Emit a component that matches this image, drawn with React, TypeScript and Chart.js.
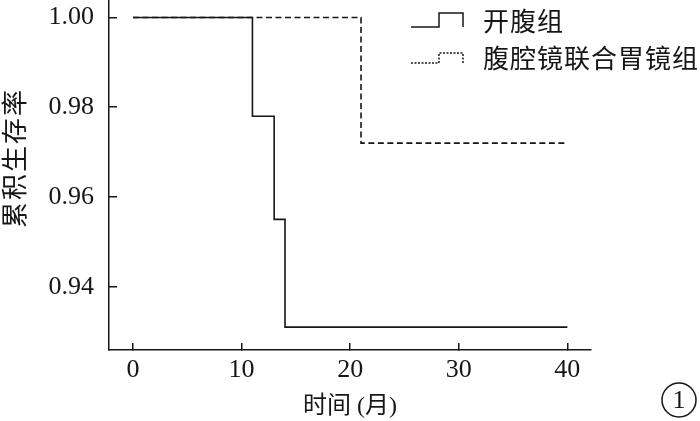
import React, { useEffect, useRef } from 'react';
import { Chart, registerables } from 'chart.js';

Chart.register(...registerables);

// ---- data ----
const seriesNames = ['开腹组', '腹腔镜联合胃镜组'];
const openTimes = [0, 11, 13, 14, 40];
const openSurvival = [1.0, 0.978, 0.955, 0.931, 0.931];
const lapTimes = [0, 21, 40];
const lapSurvival = [1.0, 0.972, 0.972];
const xTicks = [0, 10, 20, 30, 40];
const yTicks = [0.94, 0.96, 0.98, 1.0];
const xTitle = '时间 (月)';
const yTitle = '累积生存率';
const panelLabel = '1';

const INK = '#161616';
const SERIF = '"Liberation Serif", "Times New Roman", serif';
const CJK = '"Noto Sans CJK SC", "Noto Sans CJK JP", sans-serif';
const MIXED = '"Liberation Serif", "Noto Sans CJK SC", serif';

const overlayPlugin = {
  id: 'overlay',
  afterDraw(chart: any) {
    const ctx: CanvasRenderingContext2D = chart.ctx;
    // y-axis title
    ctx.save();
    ctx.translate(14, 158);
    ctx.rotate(-Math.PI / 2);
    ctx.font = `26px ${CJK}`;
    (ctx as any).letterSpacing = '2px';
    ctx.textAlign = 'center';
    ctx.textBaseline = 'middle';
    ctx.fillStyle = INK;
    ctx.fillText(yTitle, 0, 0);
    ctx.restore();

    // legend
    const entries = [
      { name: seriesNames[0], base: 27, top: 13, dash: [] as number[], textY: 21 },
      { name: seriesNames[1], base: 63, top: 53, dash: [2, 1.5], textY: 58 },
    ];
    entries.forEach((e) => {
      ctx.save();
      ctx.strokeStyle = INK;
      ctx.lineWidth = 1.5;
      ctx.setLineDash(e.dash);
      ctx.beginPath();
      ctx.moveTo(411, e.base);
      ctx.lineTo(439, e.base);
      ctx.lineTo(439, e.top);
      ctx.lineTo(463, e.top);
      ctx.lineTo(463, e.base);
      ctx.stroke();
      ctx.restore();
      ctx.save();
      ctx.font = `26px ${CJK}`;
      (ctx as any).letterSpacing = '1px';
      ctx.textAlign = 'left';
      ctx.textBaseline = 'middle';
      ctx.fillStyle = INK;
      ctx.fillText(e.name, 483, e.textY);
      ctx.restore();
    });

    // panel label
    ctx.save();
    ctx.strokeStyle = INK;
    ctx.lineWidth = 1.5;
    ctx.beginPath();
    ctx.arc(679, 400, 17, 0, Math.PI * 2);
    ctx.stroke();
    ctx.font = `26px ${SERIF}`;
    ctx.textAlign = 'center';
    ctx.textBaseline = 'middle';
    ctx.fillStyle = INK;
    ctx.fillText(panelLabel, 679, 401);
    ctx.restore();
  },
};

export default function App() {
  const ref = useRef<HTMLCanvasElement | null>(null);

  useEffect(() => {
    if (!ref.current) return;
    const chart = new Chart(ref.current, {
      type: 'line',
      data: {
        datasets: [
          {
            label: seriesNames[0],
            data: openTimes.map((t, i) => ({ x: t, y: openSurvival[i] })),
            stepped: true,
            borderColor: INK,
            borderWidth: 1.6,
            pointRadius: 0,
            fill: false,
          },
          {
            label: seriesNames[1],
            data: lapTimes.map((t, i) => ({ x: t, y: lapSurvival[i] })),
            stepped: true,
            borderColor: INK,
            borderWidth: 1.6,
            borderDash: [6, 3.5],
            pointRadius: 0,
            fill: false,
          },
        ],
      },
      options: {
        responsive: false,
        animation: false,
        devicePixelRatio: 1,
        layout: { padding: { top: 0, right: 109, bottom: 0, left: 0 } },
        plugins: {
          legend: { display: false },
          tooltip: { enabled: false },
        },
        scales: {
          x: {
            type: 'linear',
            min: -2.21,
            max: 42.18,
            afterBuildTicks: (s: any) => {
              s.ticks = xTicks.map((v) => ({ value: v }));
            },
            afterFit: (s: any) => {
              s.height = 71;
              s.paddingLeft = 0;
              s.paddingRight = 0;
            },
            ticks: {
              color: INK,
              font: { family: SERIF, size: 26 },
              padding: 12,
              maxRotation: 0,
              autoSkip: false,
              callback: (v: any) => String(v),
            },
            grid: {
              drawOnChartArea: false,
              drawTicks: true,
              tickLength: -7,
              color: INK,
              lineWidth: 1.5,
            },
            border: { display: true, color: INK, width: 1.5 },
            title: {
              display: true,
              text: xTitle,
              color: INK,
              font: { family: MIXED, size: 24, lineHeight: 1.2 },
              padding: { top: 0, bottom: 0 },
            },
          },
          y: {
            type: 'linear',
            min: 0.9259,
            max: 1.0039,
            afterBuildTicks: (s: any) => {
              s.ticks = yTicks.map((v) => ({ value: v }));
            },
            afterFit: (s: any) => {
              s.width = 109;
              s.paddingTop = 0;
              s.paddingBottom = 0;
            },
            ticks: {
              color: INK,
              font: { family: SERIF, size: 26 },
              padding: 23,
              autoSkip: false,
              callback: (v: any) => Number(v).toFixed(2),
            },
            grid: {
              drawOnChartArea: false,
              drawTicks: true,
              tickLength: -8,
              color: INK,
              lineWidth: 1.5,
            },
            border: { display: true, color: INK, width: 1.5 },
          },
        },
      },
      plugins: [overlayPlugin],
    } as any);
    return () => chart.destroy();
  }, []);

  return (
    <div style={{ position: 'fixed', left: 0, top: 0, width: 700, height: 421, background: '#fff' }}>
      <canvas ref={ref} width={700} height={421} style={{ display: 'block', width: 700, height: 421 }} />
    </div>
  );
}
